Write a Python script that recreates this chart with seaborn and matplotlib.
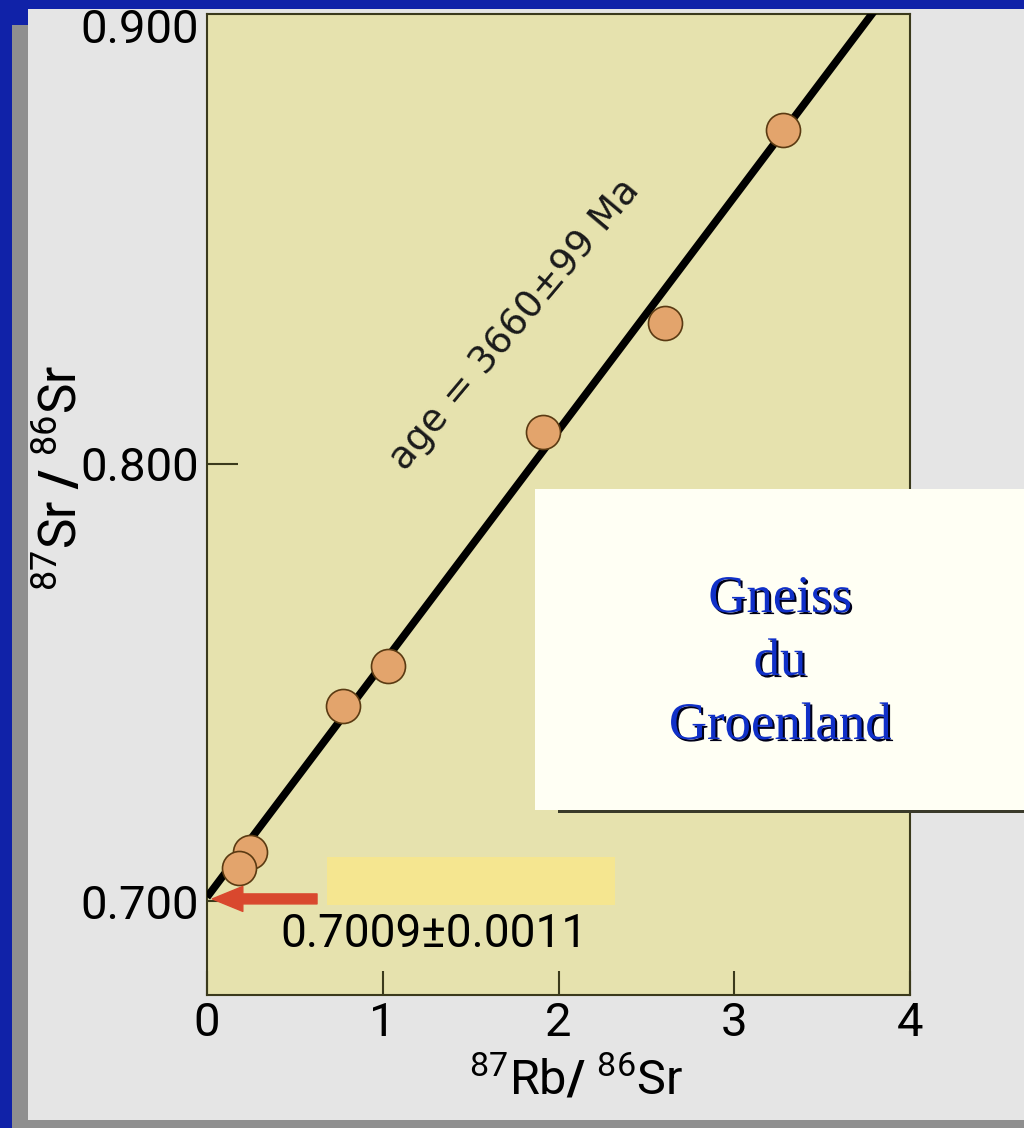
import numpy as np
import matplotlib
matplotlib.use("Agg")
import matplotlib.pyplot as plt
import matplotlib.patheffects as pe
from matplotlib.patches import Rectangle
import seaborn as sns

# Rb-Sr whole-rock isochron, Greenland gneiss
rb_sr = [3.275, 2.605, 1.91, 1.03, 0.775, 0.245, 0.18]       # 87Rb/86Sr
sr_sr = [0.8763, 0.8322, 0.8073, 0.7537, 0.7447, 0.7112, 0.7075]  # 87Sr/86Sr
x_ticks = [0, 1, 2, 3, 4]
x_tick_labels = ["0", "1", "2", "3", "4"]
y_ticks = [0.7, 0.8, 0.9]
y_tick_labels = ["0.700", "0.800", "0.900"]
initial_ratio = 0.7009
initial_err = 0.0011
age_ma = 3660
age_err_ma = 99
decay_const = 1.42e-11          # 87Rb decay constant, 1/yr
isochron_x = [0.0, 3.8]
title_lines = ["Gneiss", "du", "Groenland"]

W, H = 1024, 1128


def fx(px):
    return px / W


def fy(py):
    return 1 - py / H


sns.set_theme(style="ticks")
plt.rcParams["font.family"] = ["Roboto", "DejaVu Sans"]
plt.rcParams["mathtext.fontset"] = "custom"
plt.rcParams["mathtext.rm"] = "Roboto"
plt.rcParams["mathtext.bf"] = "Roboto:bold"
plt.rcParams["mathtext.it"] = "Roboto:italic"

fig = plt.figure(figsize=(W / 100, H / 100), dpi=100, facecolor="#e5e5e5")

# slide frame
blue, grey = "#1022a8", "#8f8f8f"
for (x0, y0, x1, y1, c) in [
    (0, 0, 12, 1128, blue),
    (0, 0, 1024, 9, blue),
    (12, 9, 28, 25, blue),
    (12, 25, 28, 1128, grey),
    (12, 1120, 1024, 1128, grey),
]:
    fig.add_artist(Rectangle((fx(x0), fy(y1)), (x1 - x0) / W, (y1 - y0) / H,
                             transform=fig.transFigure, color=c, lw=0, zorder=-1))

ax = fig.add_axes([fx(207), fy(995), (910 - 207) / W, (995 - 14) / H])
ax.set_facecolor("#e6e2ae")

# isochron line: slope from the age, intercept = initial ratio
slope = np.exp(decay_const * age_ma * 1e6) - 1
line_y = [initial_ratio + slope * x for x in isochron_x]
sns.lineplot(x=isochron_x, y=line_y, ax=ax, color="black", lw=5.5,
             solid_capstyle="butt", zorder=3)

sns.scatterplot(x=rb_sr, y=sr_sr, ax=ax, s=600, color="#e3a46c",
                edgecolor="#5a3a12", linewidth=1.2, zorder=4, legend=False)

ax.set_xlim(0, 4)
ax.set_ylim(0.67854, 0.90274)

# highlighted initial ratio with arrow
ax.add_patch(Rectangle((0.683, 0.69909), 1.638, 0.01097, color="#f5e690",
                       lw=0, zorder=2))
ax.annotate("", xy=(0.03, 0.7005), xytext=(0.626, 0.7005),
            arrowprops=dict(arrowstyle="simple,head_length=1.1,head_width=0.9,tail_width=0.36",
                            color="#d9482e", mutation_scale=20, shrinkA=0, shrinkB=0),
            zorder=5)
ax.text(1.289, 0.68949, f"{initial_ratio:.4f}\u00b1{initial_err:.4f}",
        ha="center", va="baseline", fontsize=33, color="black", zorder=5)

ax.text(1.756, 0.8317, f"age = {age_ma}\u00b1{age_err_ma} Ma", rotation=50,
        rotation_mode="anchor", ha="center", va="center", fontsize=27,
        color="#1a1a1a", family=["DejaVu Sans"], zorder=5)

ax.set_xticks(x_ticks)
ax.set_xticklabels(x_tick_labels)
ax.set_yticks(y_ticks)
ax.set_yticklabels(y_tick_labels)
ax.tick_params(axis="both", direction="in", color="#3b3a1c", width=1.5,
               labelsize=34, labelcolor="black")
ax.tick_params(axis="x", length=17, pad=4)
ax.tick_params(axis="y", length=22, pad=6)
ax.yaxis.get_major_ticks()[2].tick1line.set_visible(False)
for sp in ax.spines.values():
    sp.set_visible(True)
    sp.set_color("#3b3a1c")
    sp.set_linewidth(1.5)
ax.grid(False)
ax.set_xlabel("")
ax.set_ylabel("")

# axis titles
fig.text(fx(62), fy(478), r"$^{87}$Sr $\mathbf{/}$ $^{86}$Sr", rotation=90,
         ha="center", va="center", fontsize=37, color="black")
fig.text(fx(576), fy(1080), r"$^{87}$Rb$\mathbf{/}$ $^{86}$Sr",
         ha="center", va="center", fontsize=35, color="black")

# label card
fig.add_artist(Rectangle((fx(558), fy(813)), fx(1030) - fx(558), (813 - 492) / H,
                         transform=fig.transFigure, color="#3a3a2a", lw=0, zorder=5))
fig.add_artist(Rectangle((fx(535), fy(810)), fx(1030) - fx(535), (810 - 489) / H,
                         transform=fig.transFigure, color="#fffff4", lw=0, zorder=6))
shadow = [pe.SimplePatchShadow(offset=(1.5, -1.5), shadow_rgbFace="#000018", alpha=1.0),
          pe.Normal()]
for line, base in zip(title_lines, [612, 675, 739]):
    fig.text(fx(780), fy(base), line, ha="center", va="baseline", fontsize=38,
             family=["Liberation Serif"], color="#1030c8", zorder=7,
             path_effects=shadow)

fig.savefig("out.png", dpi=100, facecolor=fig.get_facecolor())
